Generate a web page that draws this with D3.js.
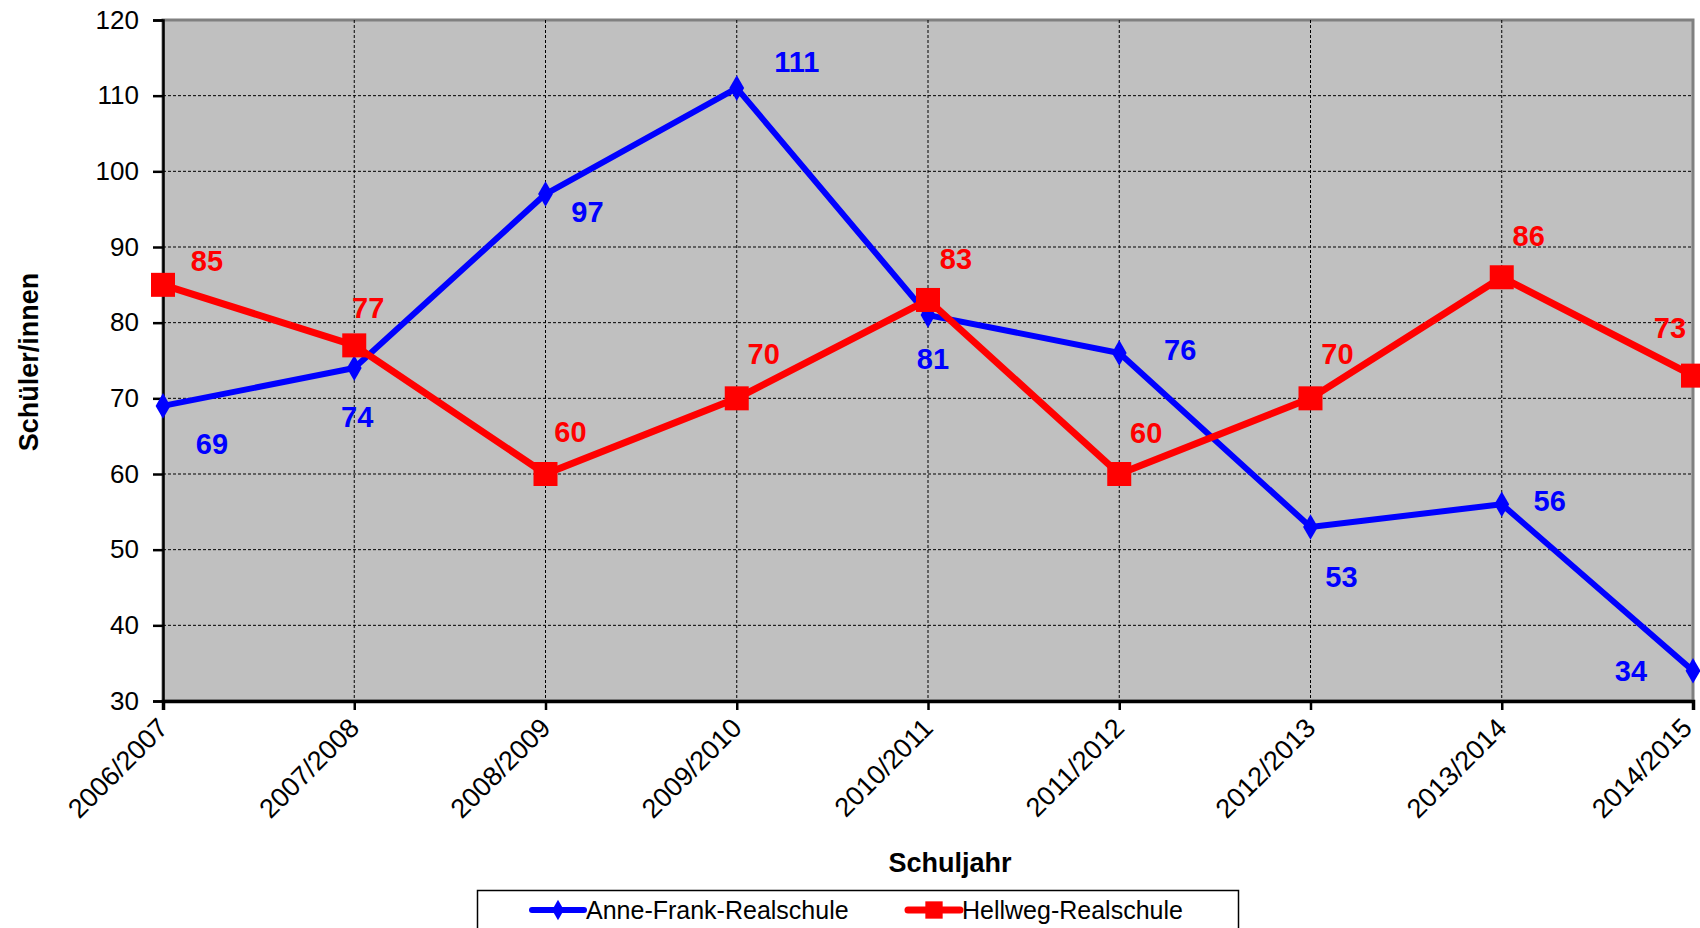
<!DOCTYPE html>
<html><head><meta charset="utf-8">
<script src="https://cdn.jsdelivr.net/npm/d3@7"></script>
<style>
html,body{margin:0;padding:0;background:#fff;}
text{font-family:"Liberation Sans",Arial,sans-serif;}
</style></head>
<body><svg id="chart" width="1700" height="928"></svg>
<script>
const categories = ["2006/2007","2007/2008","2008/2009","2009/2010","2010/2011","2011/2012","2012/2013","2013/2014","2014/2015"];
const anneFrank = [69,74,97,111,81,76,53,56,34];
const hellweg = [85,77,60,70,83,60,70,86,73];
const yTicks = [30,40,50,60,70,80,90,100,110,120];
const seriesNames = ["Anne-Frank-Realschule","Hellweg-Realschule"];
// label placement offsets (layout only)
const blueLabelOffsets = [[49,38],[3,49],[42,18],[60,-26],[5,44],[61,-3],[31,50],[48,-3],[-62,0]];
const redLabelOffsets = [[44,-24],[14,-37],[25,-42],[27,-44],[28,-41],[27,-41],[27,-44],[27,-41],[-23,-48]];

const svg = d3.select("#chart");
const L = 163, R = 1693, T = 20, B = 701;
const x = d3.scalePoint().domain(categories).range([L, R]);
const y = d3.scaleLinear().domain([30,120]).range([B, T]);

// plot background
svg.append("rect").attr("x",L).attr("y",T).attr("width",R-L).attr("height",B-T)
  .attr("fill","#c0c0c0").attr("stroke","#808080").attr("stroke-width",3);

// gridlines
const g = svg.append("g");
g.selectAll("line.h").data(yTicks.filter(v=>v>30 && v<120)).join("line")
  .attr("x1",L).attr("x2",R).attr("y1",d=>y(d)).attr("y2",d=>y(d))
  .attr("stroke","#000").attr("stroke-width",1).attr("stroke-dasharray","3,2");
g.selectAll("line.v").data(categories.slice(1,-1)).join("line")
  .attr("y1",T).attr("y2",B).attr("x1",d=>x(d)).attr("x2",d=>x(d))
  .attr("stroke","#000").attr("stroke-width",1).attr("stroke-dasharray","3,2");

// axes
const yAxis = d3.axisLeft(y).tickValues(yTicks).tickSize(10).tickPadding(14);
const ya = svg.append("g").attr("transform",`translate(${L},0)`).call(yAxis);
ya.select(".domain").attr("stroke","#000").attr("stroke-width",2.5);
ya.selectAll(".tick line").attr("stroke","#000").attr("stroke-width",2.5);
ya.selectAll(".tick text").attr("font-size",26).attr("fill","#000")
  .attr("font-family","Liberation Sans, Arial, sans-serif");

const xAxis = d3.axisBottom(x).tickSize(9).tickFormat("");
const xa = svg.append("g").attr("transform",`translate(0,${B})`).call(xAxis);
xa.select(".domain").attr("stroke","#000").attr("stroke-width",3.5);
xa.selectAll(".tick line").attr("stroke","#000").attr("stroke-width",2.5);

svg.append("g").selectAll("text").data(categories).join("text")
  .attr("transform",(d,i)=>`translate(${x(d)-7-(i===categories.length-1?6:0)},${B+15}) rotate(-45)`)
  .attr("text-anchor","end").attr("dy","0.71em")
  .attr("font-size",27).attr("fill","#000").text(d=>d);

// axis titles
svg.append("text").attr("transform",`translate(38,362) rotate(-90)`)
  .attr("text-anchor","middle").attr("font-size",27).attr("font-weight","bold").text("Schüler/innen");
svg.append("text").attr("x",950).attr("y",872)
  .attr("text-anchor","middle").attr("font-size",27).attr("font-weight","bold").text("Schuljahr");

// lines
const line = d3.line().x((d,i)=>x(categories[i])).y(d=>y(d));
svg.append("path").datum(anneFrank).attr("d",line).attr("fill","none")
  .attr("stroke","#0000ff").attr("stroke-width",6).attr("stroke-linejoin","round");
svg.append("path").datum(hellweg).attr("d",line).attr("fill","none")
  .attr("stroke","#ff0000").attr("stroke-width",7).attr("stroke-linejoin","round");

// markers
const diamond = d3.symbol().type(d3.symbolDiamond).size(190);
svg.append("g").selectAll("path").data(anneFrank).join("path")
  .attr("d",diamond).attr("transform",(d,i)=>`translate(${x(categories[i])},${y(d)})`)
  .attr("fill","#0000ff");
svg.append("g").selectAll("rect").data(hellweg).join("rect")
  .attr("x",(d,i)=>x(categories[i])-12).attr("y",d=>y(d)-12)
  .attr("width",24).attr("height",24).attr("fill","#ff0000");

// data labels
svg.append("g").selectAll("text").data(anneFrank).join("text")
  .attr("x",(d,i)=>x(categories[i])+blueLabelOffsets[i][0])
  .attr("y",(d,i)=>y(d)+blueLabelOffsets[i][1])
  .attr("text-anchor","middle").attr("dominant-baseline","central")
  .attr("font-size",29).attr("font-weight","bold").attr("fill","#0000ff").text(d=>d);
svg.append("g").selectAll("text").data(hellweg).join("text")
  .attr("x",(d,i)=>x(categories[i])+redLabelOffsets[i][0])
  .attr("y",(d,i)=>y(d)+redLabelOffsets[i][1])
  .attr("text-anchor","middle").attr("dominant-baseline","central")
  .attr("font-size",29).attr("font-weight","bold").attr("fill","#ff0000").text(d=>d);

// legend
svg.append("rect").attr("x",477.5).attr("y",890.5).attr("width",761).attr("height",60)
  .attr("fill","#fff").attr("stroke","#000").attr("stroke-width",1.5);
const legendItems = [
  {name:seriesNames[0], color:"#0000ff", x0:532, shape:"diamond"},
  {name:seriesNames[1], color:"#ff0000", x0:908, shape:"square"}
];
const lg = svg.append("g").selectAll("g").data(legendItems).join("g")
  .attr("transform",d=>`translate(${d.x0},910)`);
lg.append("line").attr("x1",0).attr("x2",52).attr("y1",0).attr("y2",0)
  .attr("stroke",d=>d.color).attr("stroke-width",d=>d.shape==="square"?7:6).attr("stroke-linecap","round");
lg.append("path").attr("d",d=>d.shape==="diamond"?d3.symbol().type(d3.symbolDiamond).size(120)():d3.symbol().type(d3.symbolSquare).size(300)())
  .attr("transform","translate(26,0)").attr("fill",d=>d.color);
lg.append("text").attr("x",54).attr("y",0).attr("dominant-baseline","central")
  .attr("font-size",25).attr("fill","#000").text(d=>d.name);
</script>
</body></html>
